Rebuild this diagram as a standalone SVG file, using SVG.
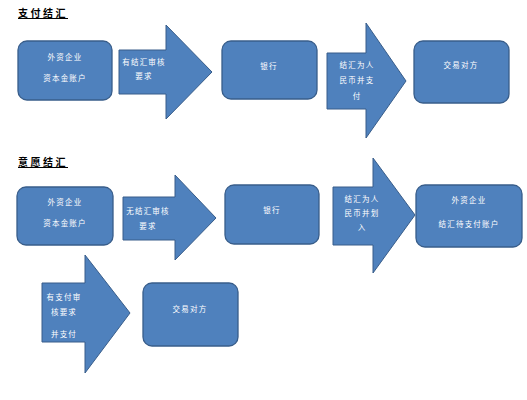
<svg xmlns="http://www.w3.org/2000/svg" width="527" height="400" viewBox="0 0 527 400">
<style>
.box{fill:#4F81BD;stroke:#385D8A;stroke-width:1.3}
.arr{fill:#4F81BD;stroke:#385D8A;stroke-width:1}
.t{font-family:"Noto Sans CJK SC","Liberation Sans",sans-serif;font-size:7.5px;fill:#ffffff;text-anchor:middle;letter-spacing:1.2px}
.h{font-family:"Noto Sans CJK SC","Liberation Sans",sans-serif;font-size:10px;font-weight:bold;fill:#000;letter-spacing:2.5px;text-decoration:underline}
</style>
<rect width="527" height="400" fill="#ffffff"/>
<text class="h" x="18" y="17">支付结汇</text>
<text class="h" x="18" y="166">意愿结汇</text>
<g id="connectors">
<g id="arrow1">
<path class="arr" d="M119,50 H166 V25 L212,72 L166,119 V94 H119 Z"/>
<text class="t" x="144" y="65">有结汇审核</text>
<text class="t" x="144" y="79">要求</text>
</g>
<g id="arrow2">
<path class="arr" d="M327,53 H366 V23 L406,81 L366,138 V109 H327 Z"/>
<text class="t" x="357" y="68">结汇为人</text>
<text class="t" x="357" y="83">民币并支</text>
<text class="t" x="357" y="99">付</text>
</g>
<g id="arrow3">
<path class="arr" d="M123,197 H175 V175 L216,218 L175,260 V240 H123 Z"/>
<text class="t" x="148" y="214">无结汇审核</text>
<text class="t" x="148" y="229">要求</text>
</g>
<g id="arrow4">
<path class="arr" d="M333,187 H373 V158 L415,215 L373,273 V245 H333 Z"/>
<text class="t" x="362" y="202">结汇为人</text>
<text class="t" x="362" y="216">民币并划</text>
<text class="t" x="362" y="230">入</text>
</g>
<g id="arrow5">
<path class="arr" d="M42,283 H85 V255 L130,313 L85,373 V342 H42 Z"/>
<text class="t" x="64" y="300">有支付审</text>
<text class="t" x="64" y="315">核要求</text>
<text class="t" x="64" y="337">并支付</text>
</g>
</g>
<g id="n1">
<rect class="box" x="18" y="41" width="94" height="59" rx="9"/>
<text class="t" x="65" y="60">外资企业</text>
<text class="t" x="65" y="81">资本金账户</text>
</g>
<g id="n2">
<rect class="box" x="222" y="41" width="95" height="58" rx="9"/>
<text class="t" x="269" y="69">银行</text>
</g>
<g id="n3">
<rect class="box" x="414" y="41" width="95" height="62" rx="9"/>
<text class="t" x="461" y="68">交易对方</text>
</g>
<g id="n4">
<rect class="box" x="17" y="187" width="96" height="58" rx="9"/>
<text class="t" x="65" y="205">外资企业</text>
<text class="t" x="65" y="226">资本金账户</text>
</g>
<g id="n5">
<rect class="box" x="225" y="185" width="94" height="59" rx="9"/>
<text class="t" x="272" y="213">银行</text>
</g>
<g id="n6">
<rect class="box" x="416" y="185" width="106" height="62" rx="9"/>
<text class="t" x="469" y="203">外资企业</text>
<text class="t" x="469" y="227">结汇待支付账户</text>
</g>
<g id="n7">
<rect class="box" x="143" y="283" width="95" height="63" rx="9"/>
<text class="t" x="190" y="312">交易对方</text>
</g>
</svg>
